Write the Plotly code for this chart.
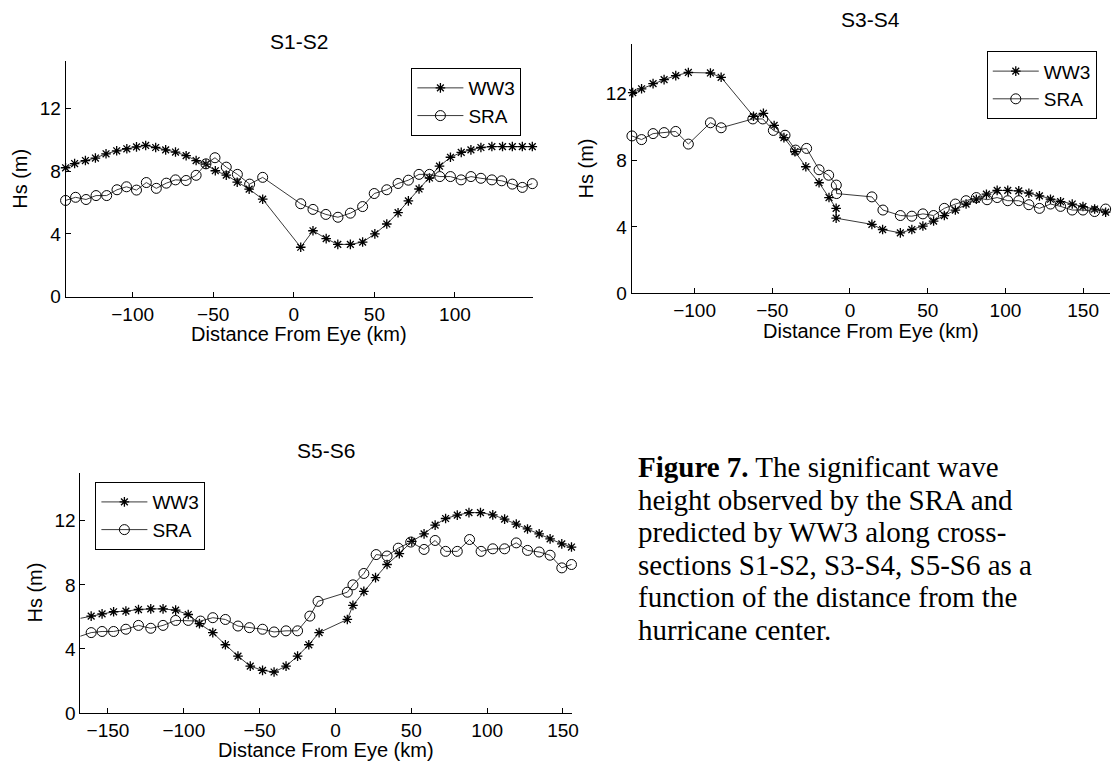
import plotly.graph_objects as go

W, H = 1117, 775

# ---------------- data ----------------
# S1-S2
s1_ww3_x = [-141.6, -136.0, -129.3, -123.1, -116.5, -109.9, -103.6, -97.6, -91.9, -85.7, -79.5, -73.4,
            -66.8, -60.6, -54.5, -48.7, -41.9, -35.1, -27.7, -19.3, 4.3, 11.9, 20.1, 27.3, 35.1, 42.7,
            50.3, 57.7, 64.7, 71.1, 77.7, 84.2, 90.4, 97.2, 103.9, 109.9, 116.1, 122.9, 129.5, 135.6, 141.8, 148.0]
s1_ww3_y = [8.21, 8.48, 8.67, 8.83, 9.10, 9.29, 9.42, 9.54, 9.63, 9.50, 9.35, 9.21,
            8.98, 8.67, 8.44, 8.02, 7.74, 7.29, 6.85, 6.21, 3.15, 4.20, 3.70, 3.33, 3.33, 3.48,
            4.00, 4.63, 5.35, 6.10, 6.86, 7.56, 8.31, 8.88, 9.19, 9.35, 9.50, 9.56, 9.56, 9.56, 9.56, 9.56]
s1_sra_x = [-141.6, -135.4, -128.9, -122.7, -116.1, -109.7, -103.8, -97.6, -91.5, -85.3, -79.1, -73.4,
            -66.8, -60.6, -54.5, -48.9, -41.9, -35.0, -27.4, -19.3, 4.3, 11.9, 19.9, 27.4, 35.1, 42.7,
            49.9, 57.7, 64.7, 71.1, 77.7, 84.2, 90.6, 97.2, 103.8, 109.9, 116.1, 122.9, 129.0, 135.6, 141.8, 148.0]
s1_sra_y = [6.13, 6.33, 6.19, 6.44, 6.44, 6.81, 7.00, 6.79, 7.27, 6.90, 7.23, 7.44,
            7.40, 7.73, 8.46, 8.85, 8.25, 7.79, 7.17, 7.60, 5.92, 5.56, 5.24, 5.06, 5.32, 5.74,
            6.57, 6.81, 7.21, 7.42, 7.79, 7.79, 7.65, 7.65, 7.44, 7.65, 7.54, 7.44, 7.38, 7.17, 6.96, 7.20]

# S3-S4
s3_ww3_x = [-139.8, -134.1, -126.7, -119.6, -112.1, -104.0, -89.8, -82.9, -62.1, -55.7, -48.8, -42.5,
            -35.4, -28.4, -19.9, -13.5, -8.9, -8.9, 14.1, 21.0, 32.4, 39.8, 46.9, 53.8, 60.7, 67.8,
            74.7, 81.3, 87.8, 94.7, 101.5, 108.6, 115.1, 121.9, 129.0, 135.5, 143.0, 149.9, 157.4, 164.5]
s3_ww3_y = [12.06, 12.29, 12.60, 12.84, 13.08, 13.27, 13.24, 12.98, 10.64, 10.82, 10.09, 9.36,
            8.52, 7.61, 6.65, 5.76, 5.11, 4.52, 4.15, 3.84, 3.64, 3.84, 4.05, 4.35, 4.68, 5.01,
            5.37, 5.66, 5.96, 6.19, 6.19, 6.16, 6.02, 5.86, 5.66, 5.51, 5.37, 5.22, 5.07, 4.88]
s3_sra_x = [-140.3, -134.1, -126.7, -119.6, -112.1, -104.0, -89.8, -82.9, -62.5, -56.1, -49.3, -41.8,
            -35.0, -27.9, -19.9, -13.7, -8.8, -8.6, 14.1, 21.2, 32.4, 39.8, 46.9, 53.8, 60.7, 67.8,
            74.7, 81.3, 88.2, 94.7, 101.5, 108.6, 115.1, 121.9, 129.0, 135.5, 143.0, 149.9, 157.4, 164.5]
s3_sra_y = [9.46, 9.24, 9.60, 9.66, 9.73, 8.97, 10.25, 9.95, 10.48, 10.48, 9.79, 9.50,
            8.61, 8.71, 7.43, 7.10, 6.51, 6.00, 5.80, 5.01, 4.68, 4.64, 4.78, 4.68, 5.11, 5.37,
            5.57, 5.76, 5.63, 5.76, 5.57, 5.57, 5.33, 5.11, 5.37, 5.23, 5.01, 5.01, 4.92, 5.07]

# S5-S6
s5_ww3_x = [-168.3, -161.1, -153.9, -146.3, -138.2, -129.9, -121.8, -113.7, -105.4, -97.1, -89.7, -80.9,
            -72.6, -64.3, -56.2, -48.1, -40.5, -32.6, -25.0, -17.6, -10.8, 7.8, 11.5, 18.7, 26.4, 34.0,
            42.1, 50.3, 58.4, 65.7, 72.6, 80.3, 88.0, 95.6, 103.7, 111.5, 119.2, 126.6, 134.3, 141.5, 149.2, 155.6]
s5_ww3_y = [5.91, 6.05, 6.19, 6.32, 6.36, 6.46, 6.50, 6.50, 6.42, 6.15, 5.58, 5.02,
            4.26, 3.55, 2.93, 2.66, 2.56, 2.93, 3.55, 4.26, 5.02, 5.84, 6.72, 7.59, 8.45, 9.27,
            9.95, 10.71, 11.18, 11.73, 12.14, 12.35, 12.51, 12.51, 12.37, 12.10, 11.79, 11.49, 11.18, 10.87, 10.56, 10.36]
s5_sra_x = [-168.7, -161.1, -153.9, -146.3, -138.2, -129.9, -121.8, -113.7, -105.4, -97.1, -89.0, -80.9,
            -72.6, -64.3, -56.7, -48.1, -40.5, -32.6, -25.0, -16.9, -11.5, 7.8, 11.5, 18.7, 26.8, 34.0,
            41.4, 49.6, 58.4, 65.7, 72.6, 80.3, 88.4, 96.0, 103.7, 111.5, 119.2, 126.6, 134.3, 141.5, 149.2, 155.6]
s5_sra_y = [4.78, 5.02, 5.09, 5.09, 5.23, 5.47, 5.29, 5.47, 5.78, 5.78, 5.74, 5.95,
            5.84, 5.43, 5.33, 5.23, 5.06, 5.13, 5.13, 6.05, 6.97, 7.54, 8.00, 8.71, 9.89, 9.80,
            10.29, 10.67, 10.21, 10.77, 10.09, 10.09, 10.83, 10.09, 10.25, 10.25, 10.62, 10.15, 10.05, 9.85, 9.06, 9.27]

titles = ["S1-S2", "S3-S4", "S5-S6"]
x_ticks = [[-100, -50, 0, 50, 100], [-100, -50, 0, 50, 100, 150], [-150, -100, -50, 0, 50, 100, 150]]
y_ticks = [0, 4, 8, 12]
x_ranges = [[-141.6, 148.2], [-140.5, 167.3], [-168.2, 156.0]]
y_range = [0, 15]
caption_lines = [
    "<b>Figure 7.</b> The significant wave",
    "height observed by the SRA and",
    "predicted by WW3 along cross-",
    "sections S1-S2, S3-S4, S5-S6 as a",
    "function of the distance from the",
    "hurricane center.",
]

# ---------------- layout (pixel boxes) ----------------
boxes = [  # x0, x1, ytop, ybottom in pixels
    (66, 536, 62, 301),
    (635.6, 1117, 44.3, 297.7),
    (80.9, 575.7, 479.5, 723.3),
]
legend_pos = [(414, 69), (993, 52), (96, 489)]
title_off = [20, 25, 23]

def px(x):
    return x / W

def py(y):
    return 1 - y / H

SANS = "Liberation Sans, Arial, sans-serif"
fig = go.Figure()
data = [
    (s1_ww3_x, s1_ww3_y, s1_sra_x, s1_sra_y),
    (s3_ww3_x, s3_ww3_y, s3_sra_x, s3_sra_y),
    (s5_ww3_x, s5_ww3_y, s5_sra_x, s5_sra_y),
]
annotations = []
for i, (wx, wy, sx, sy) in enumerate(data):
    k = "" if i == 0 else str(i + 1)
    leg = "legend" if i == 0 else f"legend{i + 1}"
    fig.add_trace(go.Scatter(x=wx, y=wy, mode="lines+markers", name="WW3",
                             xaxis="x" + k, yaxis="y" + k, legend=leg, cliponaxis=False,
                             line=dict(color="#3a3a3a", width=1),
                             marker=dict(symbol="asterisk-open", size=8, color="black",
                                         line=dict(color="black", width=1.3))))
    fig.add_trace(go.Scatter(x=sx, y=sy, mode="lines+markers", name="SRA",
                             xaxis="x" + k, yaxis="y" + k, legend=leg, cliponaxis=False,
                             line=dict(color="#3a3a3a", width=1),
                             marker=dict(symbol="circle-open", size=10, color="black",
                                         line=dict(color="black", width=1))))
    x0, x1, yt, yb = boxes[i]
    axcommon = dict(showline=True, linecolor="black", linewidth=1, ticks="inside", ticklen=5,
                    tickcolor="black", showgrid=False, zeroline=False,
                    tickfont=dict(family=SANS, size=19, color="black"), fixedrange=True)
    fig.layout["xaxis" + k] = dict(domain=[px(x0), px(x1)], range=x_ranges[i], tickvals=x_ticks[i],
                                   anchor="y" + k, **axcommon)
    fig.layout["yaxis" + k] = dict(domain=[py(yb), py(yt)], range=y_range, tickvals=y_ticks,
                                   anchor="x" + k, **axcommon)
    lx, ly = legend_pos[i]
    fig.layout[leg] = dict(x=px(lx), y=py(ly), xanchor="left", yanchor="top",
                           bgcolor="white", bordercolor="black", borderwidth=1,
                           font=dict(family=SANS, size=19, color="black"), itemwidth=46,
                           tracegroupgap=0)
    cx = (x0 + x1) / 2
    annotations.append(dict(text=titles[i], x=px(cx), y=py(yt - title_off[i]), xref="paper",
                            yref="paper", showarrow=False, xanchor="center", yanchor="middle",
                            font=dict(family=SANS, size=21, color="black")))
    annotations.append(dict(text="Distance From Eye (km)", x=px(cx), y=py(yb + 38), xref="paper",
                            yref="paper", showarrow=False, xanchor="center", yanchor="middle",
                            font=dict(family=SANS, size=20, color="black")))
    annotations.append(dict(text="Hs (m)", x=px(x0 - 46), y=py((yt + yb) / 2), xref="paper",
                            yref="paper", showarrow=False, xanchor="center", yanchor="middle",
                            textangle=-90, font=dict(family=SANS, size=20, color="black")))

cap_x, cap_y0, cap_dy = 640, 474, 33
for j, line in enumerate(caption_lines):
    annotations.append(dict(text=line, x=px(cap_x), y=py(cap_y0 + j * cap_dy), xref="paper",
                            yref="paper", showarrow=False, xanchor="left", yanchor="middle",
                            align="left",
                            font=dict(family="Liberation Serif, Times New Roman, serif", size=29,
                                      color="black")))

fig.update_layout(width=W, height=H, margin=dict(l=0, r=0, t=0, b=0),
                  paper_bgcolor="white", plot_bgcolor="white", showlegend=True,
                  annotations=annotations)
fig.write_html("out.html", config={"displayModeBar": False})
